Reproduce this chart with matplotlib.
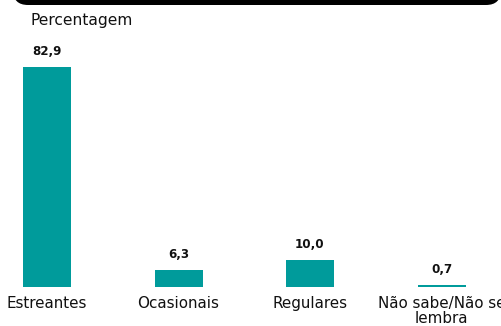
import matplotlib.pyplot as plt
from matplotlib.patches import FancyBboxPatch
from matplotlib.transforms import blended_transform_factory

plt.rcParams['font.family'] = ['DejaVu Sans']

categorias = ['Estreantes', 'Ocasionais', 'Regulares', 'Não sabe/Não se\nlembra']
valores = [82.9, 6.3, 10.0, 0.7]
rotulos = ['82,9', '6,3', '10,0', '0,7']
cor = '#009B9B'

W, H = 501, 326
fig = plt.figure(figsize=(W / 100, H / 100), dpi=100)
ax = fig.add_axes([0, 0, 1, 1])

# escala: 131.5 px entre barras, 2.654 px por ponto percentual
passo = 131.5
px_y = 2.654
x0 = 47.0
base = 39.3
ax.set_xlim(-x0 / passo, (W - x0) / passo)
ax.set_ylim(-base / px_y, (H - base) / px_y)
ax.axis('off')

xs = list(range(len(valores)))
ax.bar(xs, valores, width=48 / passo, color=cor)

for x, v, r in zip(xs, valores, rotulos):
    ax.text(x, v + 9 / px_y, r, ha='center', va='bottom', fontsize=8.6,
            fontweight='bold', color='#111111')

trans = blended_transform_factory(ax.transData, fig.transFigure)
for x, c in zip(xs, categorias):
    ax.text(x, 1 - 296 / H, c, ha='center', va='top', fontsize=10.9,
            color='#111111', linespacing=1.0, transform=trans, clip_on=False)

fig.text(31 / W, 1 - 20 / H, 'Percentagem', ha='left', va='center',
         fontsize=11.2, color='#111111')

# faixa preta arredondada no topo
faixa = FancyBboxPatch((13 / W, 1 - 5 / H), (W - 13) / W, 30 / H,
                       boxstyle='round,pad=0,rounding_size=0.03',
                       transform=fig.transFigure, facecolor='black',
                       edgecolor='none', mutation_aspect=W / H)
fig.patches.append(faixa)

fig.savefig('out.png', dpi=100)
